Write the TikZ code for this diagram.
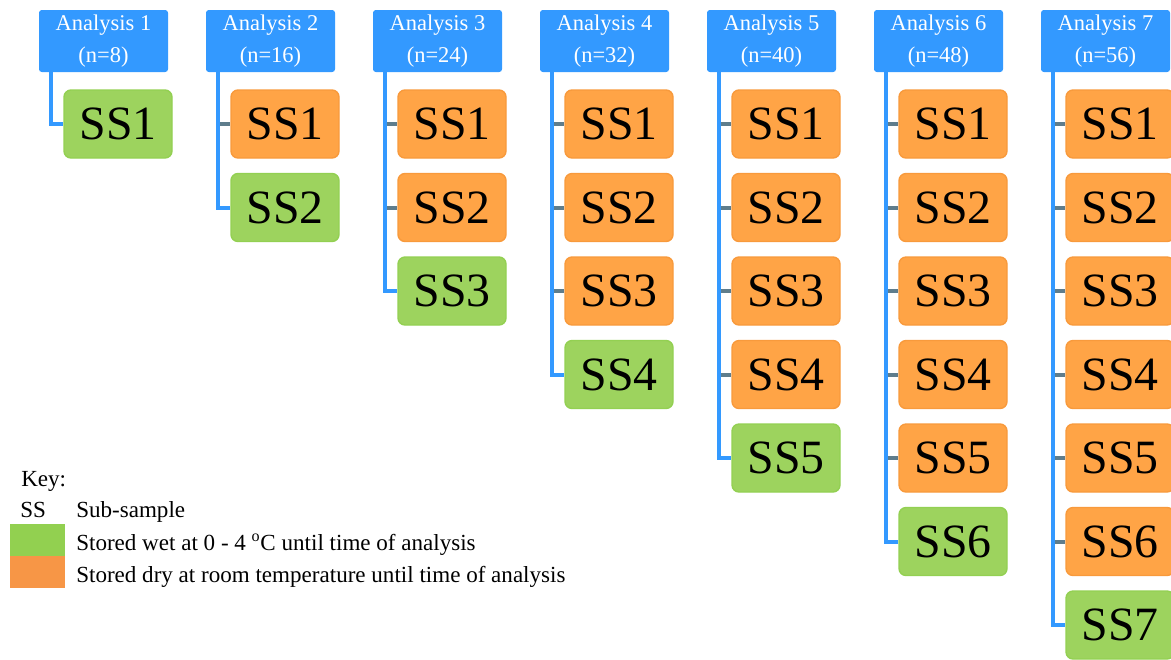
\documentclass[tikz,border=0pt]{standalone}
\usepackage{fontspec}
\setmainfont{Liberation Serif}
\usepackage{tikz}
\usetikzlibrary{calc}
\definecolor{headblue}{HTML}{3399FF}
\definecolor{dryfill}{HTML}{FFA446}
\definecolor{dryedge}{HTML}{F89A3C}
\definecolor{wetfill}{HTML}{9DD35E}
\definecolor{wetedge}{HTML}{93D052}
\definecolor{keygreen}{HTML}{92D050}
\definecolor{keyorange}{HTML}{F79646}
\definecolor{stubgrey}{HTML}{5F7D8C}
\newcommand\keyline[3]{%
  \node[keytext, anchor=base west] (#1) at (1.9,#2) {#3};
}

\begin{document}
\begin{tikzpicture}
[head/.style={rectangle, rounded corners=2pt, fill=headblue, text=white, align=center,
   minimum width=3.225cm, minimum height=1.55cm, inner sep=0, font=\fontsize{16}{22.5}\selectfont},
 dry/.style={rectangle, rounded corners=5pt, draw=dryedge, line width=1pt, fill=dryfill,
   minimum width=2.7cm, minimum height=1.7cm, inner sep=0, font=\fontsize{34}{40}\selectfont},
 wet/.style={dry, draw=wetedge, fill=wetfill},
 trunk/.style={line width=1mm, headblue},
 stub/.style={line width=1mm, stubgrey},
 keytext/.style={inner sep=0, font=\fontsize{16.4}{20}\selectfont},
 swatch/.style={rectangle, inner sep=0, minimum width=1.375cm, minimum height=0.8cm}]
\useasboundingbox (0,0) rectangle (29.275,-16.475);
\foreach \c/\n in {1/8,2/16,3/24,4/32,5/40,6/48,7/56}
{ \node[head] (a\c) at ({2.5875+4.175*(\c-1)},-1.025) {Analysis \c\\(n=\n)};
  \coordinate (top\c) at ($(a\c.south west)+(0.3,0)$);
  \foreach \r in {1,...,\c}
  { \ifnum\r=\c \def\kind{wet}\else\def\kind{dry}\fi
    \node[\kind] (s\c-\r) at ({2.95+4.175*(\c-1)},{-3.1-2.0875*(\r-1)}) {SS\r};
    \ifnum\r<\c \draw[stub] (s\c-\r.west -| top\c) -- (s\c-\r.west);\fi
  }
  \draw[trunk] (top\c) |- (s\c-\c.west);
}
% key
\node[keytext, anchor=base west] (key) at (0.525,-12.15) {Key:};
\node[keytext, anchor=base west] (sskey) at (0.5,-12.925) {SS};
\keyline{subtext}{-12.925}{Sub-sample}
\node[swatch, fill=keygreen]  (wetkey) at (0.9375,-13.5) {};
\node[swatch, fill=keyorange] (drykey) at (0.9375,-14.3) {};
\keyline{wettext}{-13.75}{Stored wet at 0 - 4 \textsuperscript{o}C until time of analysis}
\keyline{drytext}{-14.55}{Stored dry at room temperature until time of analysis}
\end{tikzpicture}
\end{document}
